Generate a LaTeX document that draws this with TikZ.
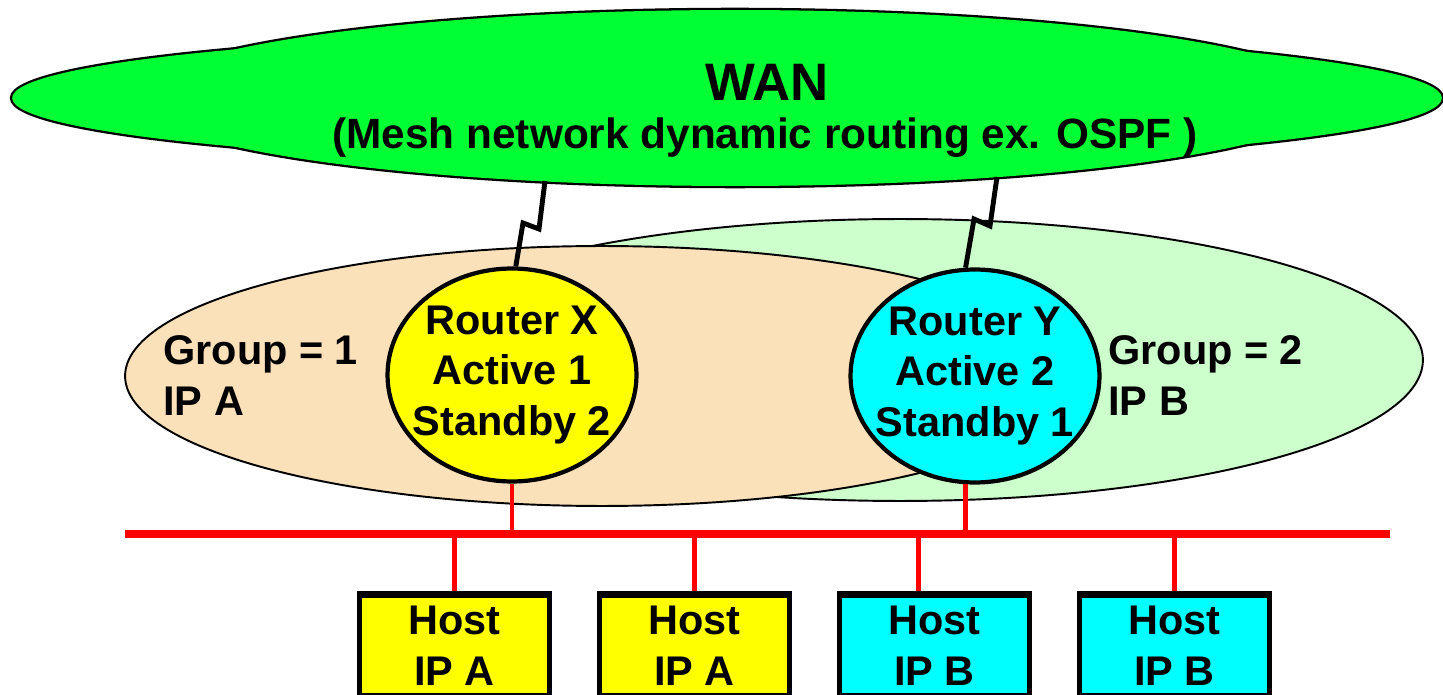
\documentclass[tikz,border=0pt]{standalone}
\usepackage{fontspec}
\setmainfont{Liberation Sans}
\usetikzlibrary{shapes.geometric,calc}

\definecolor{wangreen}{RGB}{0,255,51}
\definecolor{peach}{RGB}{251,225,186}
\definecolor{palegreen}{RGB}{204,255,204}
\definecolor{hostyellow}{RGB}{255,255,0}
\definecolor{hostcyan}{RGB}{0,255,255}

\tikzset{
          router/.style={ellipse, draw=black, line width=2.4pt, minimum width=4.98cm, minimum height=4.26cm, inner xsep=-0.5cm, inner ysep=0pt, align=center},
          host/.style={rectangle, draw=black, line width=2.8pt, minimum width=3.8cm, minimum height=2.0cm, inner sep=0pt, anchor=north, align=center},
          lbl/.style={draw=none, fill=none, inner sep=0pt, align=left, anchor=west}
        }

\begin{document}
\begin{tikzpicture}[x=0.02cm, y=-0.02cm,
        font=\fontsize{23.6}{29}\selectfont\bfseries,
        bolt/.style={black, line width=2.8pt},
        bus/.style={red, line width=2.6pt}
  ]
        \useasboundingbox (0,0) rectangle (1443,695);
        \clip (0,0) rectangle (1443,695);

        % — WAN cloud —
        \draw[line width=2.6pt] (727,98) ellipse [x radius=14.3cm, y radius=1.34cm];
        \draw[line width=2.6pt] (735,98) ellipse [x radius=12cm, y radius=1.76cm];
        \fill[wangreen] (727,98) ellipse [x radius=14.3cm, y radius=1.34cm];
        \fill[wangreen] (735,98) ellipse [x radius=12cm, y radius=1.76cm];
        \node (wan) at (767,82) {\fontsize{30}{30}\selectfont WAN};
        \node (wansub) at (765,138) {\fontsize{24.1}{29}\selectfont (Mesh network dynamic routing ex. OSPF )};

        % — groups —
        \draw[fill=palegreen, line width=1.1pt] (900,360) ellipse [x radius=10.46cm, y radius=2.82cm];
        \draw[fill=peach, line width=1.1pt] (602,376) ellipse [x radius=9.54cm, y radius=2.6cm];
        \node[lbl] (g1) at (163,376) {Group = 1\\IP A};
        \node[lbl] (g2) at (1108,376) {Group = 2\\IP B};

        % routers and their links to the WAN
        \node[router, fill=hostyellow] (rX) at (512,375) {Router X\\Active 1\\Standby 2};
        \node[router, fill=hostcyan] (rY) at (975,376) {Router Y\\Active 2\\Standby 1};
        \coordinate (wX) at (545,181);
        \coordinate (wY) at (997,177);
        \draw[bolt] (wX) -- ++(-6,48) -- ++(-16,-6) -- (rX.88);
        \draw[bolt] (wY) -- ++(-7,49) -- ++(-16,-7) -- (rY.95);

        % — LAN —
        \coordinate (busL) at (125,534);
        \coordinate (busR) at (1390,534);
        \draw[bus] (rX.south) -- (rX.south |- busL);
        \draw[bus] (rY.265) -- (rY.265 |- busL);

        % hosts
        \foreach \i/\hx/\ip/\c in {1/454.5/A/hostyellow, 2/694.5/A/hostyellow, 3/934.5/B/hostcyan, 4/1174.5/B/hostcyan} {
          \node[host, fill=\c] (h\i) at (\hx,593.5) {Host\\IP \ip};
        }
        \foreach \i/\dx in {1/0, 2/0, 3/-16, 4/0} {
          \coordinate (t\i) at ($(h\i.north)+(\dx,0)$);
          \draw[bus] (t\i) -- (t\i |- busL);
        }
        \draw[red, line width=4.4pt] (busL) -- (busR);
        \foreach \i in {1,...,4} {
          \draw[black, line width=2.8pt] (h\i.north west) -- (h\i.north east);
        }

      \end{tikzpicture}
\end{document}
